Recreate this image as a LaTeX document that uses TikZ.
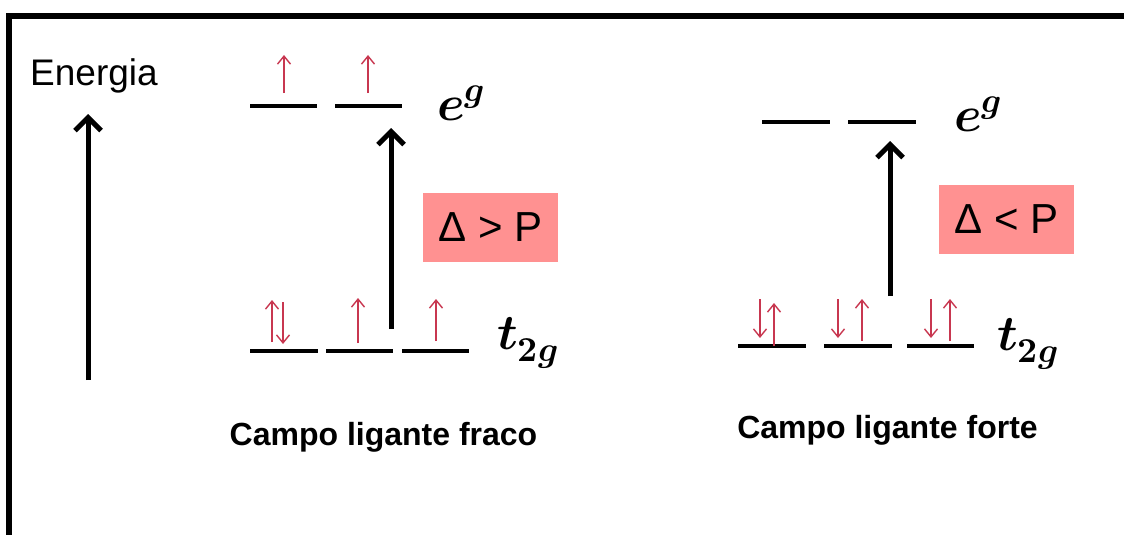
\documentclass[tikz,border=0pt]{standalone}
\usepackage{fontspec}
\usepackage{unicode-math}
\setmainfont{Liberation Sans}
\setmathfont{Latin Modern Math}
\usetikzlibrary{arrows.meta}
\definecolor{spinred}{RGB}{200,55,80}
\definecolor{boxred}{RGB}{255,145,145}
\tikzset{
 orbital/.style={line width=4pt},
 spin/.style={spinred, line width=1.4pt, -{Straight Barb[length=8pt,width=13pt]}},
 bigarrow/.style={line width=5pt, -{Straight Barb[length=13pt,width=26pt]}},
 deltabox/.style={fill=boxred, minimum width=135pt, minimum height=69pt, font=\fontsize{42}{42}\selectfont, inner sep=0pt},
 lbl/.style={font=\fontsize{32}{32}\selectfont\bfseries, inner sep=0pt},
 mlab/.style={font=\fontsize{50}{50}\selectfont, anchor=base west, inner sep=0pt}
}
\begin{document}
\begin{tikzpicture}[x=1pt,y=-1pt]
\useasboundingbox (0,0) rectangle (1124,535);
% frame
\draw[line width=6pt] (9,540) -- (9,16.5) -- (1130,16.5);
% Energia
\node[font=\fontsize{37}{37}\selectfont, inner sep=0pt] (energia) at (94,76) {Energia};
\coordinate (ea0) at (88,380);
\coordinate (ea1) at (88,114);
\draw[bigarrow] (ea0) -- (ea1);
% ---------- left diagram ----------
\coordinate (Le1a) at (250,106); \coordinate (Le1b) at (317,106);
\coordinate (Le2a) at (335,106); \coordinate (Le2b) at (402,106);
\draw[orbital] (Le1a) -- (Le1b);
\draw[orbital] (Le2a) -- (Le2b);
\coordinate (Lt1a) at (250,351); \coordinate (Lt1b) at (318,351);
\coordinate (Lt2a) at (326,351); \coordinate (Lt2b) at (393,351);
\coordinate (Lt3a) at (402,351); \coordinate (Lt3b) at (469,351);
\draw[orbital] (Lt1a) -- (Lt1b);
\draw[orbital] (Lt2a) -- (Lt2b);
\draw[orbital] (Lt3a) -- (Lt3b);
% spins
\coordinate (ls1a) at (284,93); \coordinate (ls1b) at (284,55);
\coordinate (ls2a) at (368,93); \coordinate (ls2b) at (368,55);
\draw[spin] (ls1a) -- (ls1b);
\draw[spin] (ls2a) -- (ls2b);
\coordinate (ls3a) at (272,342); \coordinate (ls3b) at (272,300);
\coordinate (ls4a) at (283,302); \coordinate (ls4b) at (283,344);
\coordinate (ls5a) at (358,343); \coordinate (ls5b) at (358,298);
\coordinate (ls6a) at (436,341); \coordinate (ls6b) at (436,299);
\draw[spin] (ls3a) -- (ls3b);
\draw[spin] (ls4a) -- (ls4b);
\draw[spin] (ls5a) -- (ls5b);
\draw[spin] (ls6a) -- (ls6b);
\coordinate (lA0) at (391,329); \coordinate (lA1) at (391,128);
\draw[bigarrow] (lA0) -- (lA1);
\node[mlab] (leg) at (437,120) {$\symbfit{e}^{\symbfit{g}}$};
\node[mlab] (lt2g) at (497,349) {$\symbfit{t}_{\symbf{2}\symbfit{g}}$};
\node[deltabox] (ldelta) at (490.5,227.5) {Δ > P};
\node[lbl] (lcampo) at (383.5,437) {Campo ligante fraco};
% ---------- right diagram ----------
\coordinate (Re1a) at (762,122); \coordinate (Re1b) at (830,122);
\coordinate (Re2a) at (848,122); \coordinate (Re2b) at (916,122);
\draw[orbital] (Re1a) -- (Re1b);
\draw[orbital] (Re2a) -- (Re2b);
\coordinate (Rt1a) at (738,346); \coordinate (Rt1b) at (806,346);
\coordinate (Rt2a) at (824,346); \coordinate (Rt2b) at (892,346);
\coordinate (Rt3a) at (907,346); \coordinate (Rt3b) at (974,346);
\draw[orbital] (Rt1a) -- (Rt1b);
\draw[orbital] (Rt2a) -- (Rt2b);
\draw[orbital] (Rt3a) -- (Rt3b);
\coordinate (rs1a) at (760,299); \coordinate (rs1b) at (760,338);
\coordinate (rs2a) at (774,346); \coordinate (rs2b) at (774,303);
\coordinate (rs3a) at (838,299); \coordinate (rs3b) at (838,338);
\coordinate (rs4a) at (862,341); \coordinate (rs4b) at (862,299);
\coordinate (rs5a) at (931,299); \coordinate (rs5b) at (931,338);
\coordinate (rs6a) at (950,341); \coordinate (rs6b) at (950,299);
\draw[spin] (rs1a) -- (rs1b);
\draw[spin] (rs2a) -- (rs2b);
\draw[spin] (rs3a) -- (rs3b);
\draw[spin] (rs4a) -- (rs4b);
\draw[spin] (rs5a) -- (rs5b);
\draw[spin] (rs6a) -- (rs6b);
\coordinate (rA0) at (890,296); \coordinate (rA1) at (890,141);
\draw[bigarrow] (rA0) -- (rA1);
\node[mlab] (reg) at (954,131) {$\symbfit{e}^{\symbfit{g}}$};
\node[mlab] (rt2g) at (997,350) {$\symbfit{t}_{\symbf{2}\symbfit{g}}$};
\node[deltabox] (rdelta) at (1006.5,219) {Δ < P};
\node[lbl] (rcampo) at (887.5,430) {Campo ligante forte};
\end{tikzpicture}
\end{document}
